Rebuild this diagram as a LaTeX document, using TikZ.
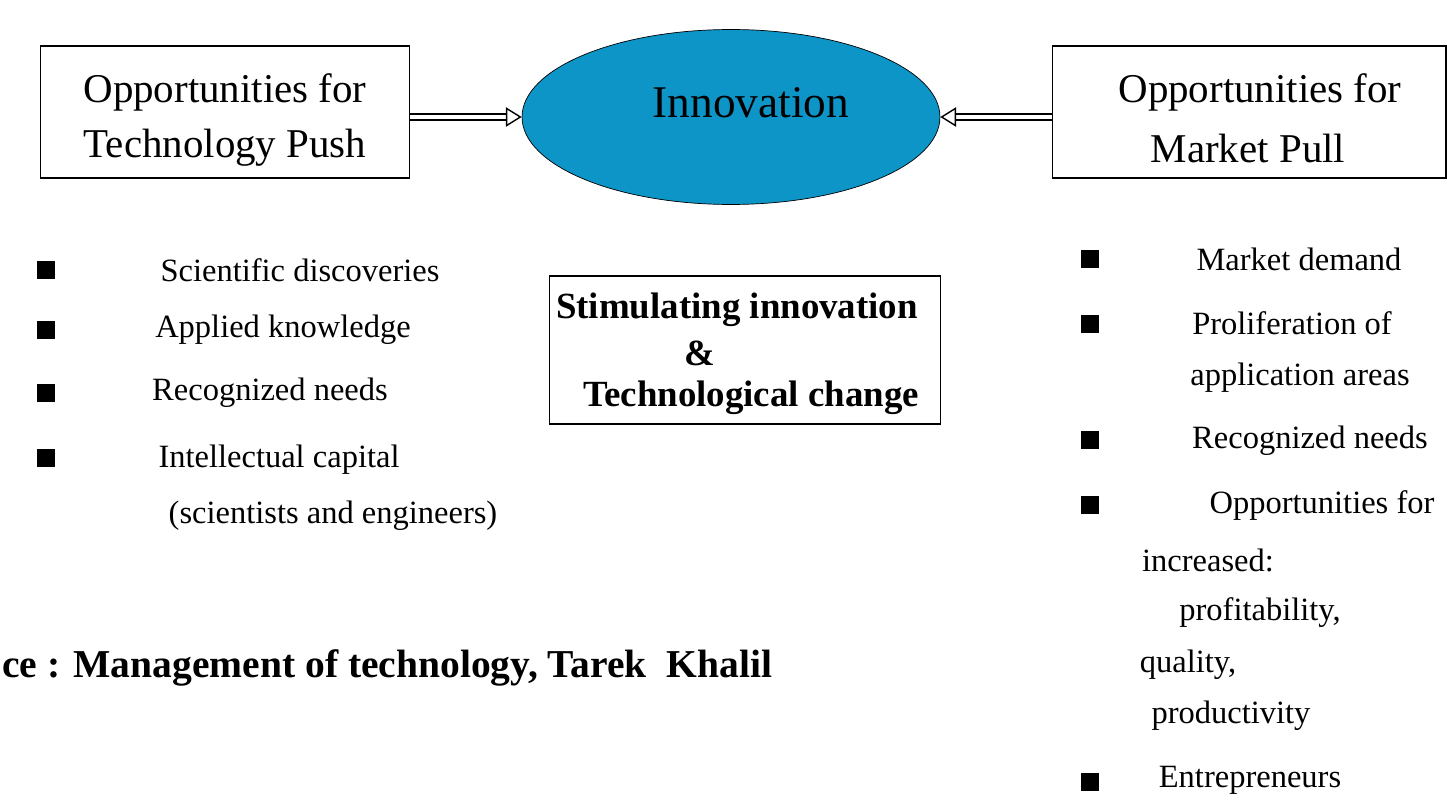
\documentclass[tikz,border=0pt]{standalone}
\usepackage{fontspec}
\setmainfont{Liberation Serif}
\usetikzlibrary{arrows.meta,shapes.geometric}

\definecolor{innoblue}{HTML}{0E95C8}

\tikzset{
    headbox/.style={draw, semithick, minimum width=7.4cm, minimum height=2.64cm},
    bullet/.style={fill=black, inner sep=0pt, minimum size=0.35cm},
    itemtext/.style={font=\fontsize{18.5}{22}\selectfont},
    headtext/.style={font=\fontsize{23.3}{27}\selectfont},
    stimtext/.style={font=\bfseries\fontsize{21}{25}\selectfont},
    push/.style={double, double distance=2.5pt, thick, -{Triangle[open, length=9pt, width=11pt]}}
}

\begin{document}
\begin{tikzpicture}[x=0.02cm, y=-0.02cm]
    \useasboundingbox (0,0) rectangle (1448,794);

    % Top row
    \node[headbox] (Push) at (225,112) {};
    \node[headtext] (Push-1) at (225,92) {Opportunities for};
    \node[headtext] (Push-2) at (225,148) {Technology Push};

    \node[draw, ellipse, fill=innoblue, minimum width=8.36cm, minimum height=3.5cm] (Innovation) at (731,117) {};
    \node[font=\fontsize{25.8}{30}\selectfont] (Innovation-Label) at (751,103) {Innovation};

    \node[headbox, minimum width=7.88cm] (Pull) at (1249,112) {};
    \node[headtext] (Pull-1) at (1260,92) {Opportunities for};
    \node[headtext] (Pull-2) at (1248,148) {Market Pull};

    % Connections to the innovation
    \draw[push] (Push.east |- Innovation) -- (Innovation.west);
    \draw[push] (Pull.west |- Innovation) -- (Innovation.east);

    % Technology push items
    \foreach \y [count=\i] in {270,330,393,458}
    {
        \node[bullet] (Left-Bullet-\i) at (46,\y) {};
    }
    \node[itemtext] (Left-1) at (300,270) {Scientific discoveries};
    \node[itemtext] (Left-2) at (283,330) {Applied knowledge};
    \node[itemtext] (Left-3) at (270,393) {Recognized needs};
    \node[itemtext] (Left-4) at (279,460) {Intellectual capital};
    \node[itemtext] (Left-5) at (333,516) {(scientists and engineers)};

    % Centre box
    \node[draw, semithick, minimum width=7.84cm, minimum height=2.96cm] (Stimulate) at (745,350) {};
    \node[stimtext] (Stimulate-1) at (737,310) {Stimulating innovation};
    \node[stimtext] (Stimulate-2) at (700,353) {\&};
    \node[stimtext] (Stimulate-3) at (751,398) {Technological change};

    % Market pull items
    \foreach \y [count=\i] in {259,324,440,505,782}
    {
        \node[bullet] (Right-Bullet-\i) at (1090,\y) {};
    }
    \node[itemtext] (Right-1) at (1299,259) {Market demand};
    \node[itemtext] (Right-2) at (1292,323) {Proliferation of};
    \node[itemtext] (Right-3) at (1300,378) {application areas};
    \node[itemtext] (Right-4) at (1310,441) {Recognized needs};
    \node[itemtext] (Right-5) at (1322,506) {Opportunities for};
    \node[itemtext] (Right-6) at (1208,560) {increased:};
    \node[itemtext] (Right-7) at (1260,613) {profitability,};
    \node[itemtext] (Right-8) at (1188,665) {quality,};
    \node[itemtext] (Right-9) at (1231,716) {productivity};
    \node[itemtext] (Right-10) at (1250,780) {Entrepreneurs};

    % Source
    \node[anchor=west, inner sep=0pt, font=\bfseries\fontsize{22.5}{27}\selectfont] (Source) at (2,668) {ce : Management of technology, Tarek\ \ Khalil};
\end{tikzpicture}
\end{document}
